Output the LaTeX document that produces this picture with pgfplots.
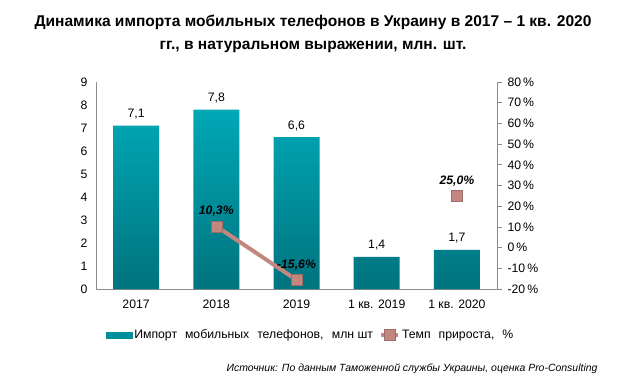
\documentclass[border=0pt]{standalone}
\usepackage{pgfplots}
\pgfplotsset{compat=1.18}
\usepackage{fontspec}
\setmainfont{Liberation Sans}
\definecolor{barTop}{HTML}{00A8B6}
\definecolor{barBot}{HTML}{00737E}
\definecolor{growth}{HTML}{C28880}
\definecolor{axisgray}{HTML}{8C8C8C}
\begin{document}
\begin{tikzpicture}[x=1bp,y=1bp]
\path[use as bounding box] (0,0) rectangle (639,386);
\node[font=\fontsize{15.6}{22.5}\selectfont\bfseries, align=center] at (313,352) {Динамика импорта мобильных телефонов в Украину в 2017 – 1 кв. 2020\\гг., в натуральном выражении, млн. шт.};
\begin{axis}[
  at={(96bp,97bp)}, anchor=south west,
  width=401bp, height=207bp, scale only axis,
  xmin=-0.5, xmax=4.5, ymin=0, ymax=9,
  xtick={0,1,2,3,4},
  xticklabels={2017,2018,2019,1 кв. 2019,1 кв. 2020},
  ytick={0,1,...,9},
  axis x line*=bottom, axis y line*=left,
  axis line style={axisgray, line width=0.8bp},
  major tick length=0pt,
  tick label style={font=\fontsize{12.3}{14}\selectfont},
  /pgf/number format/assume math mode=true,
  xticklabel style={yshift=-7bp},
  yticklabel style={xshift=-5bp},
]
\addplot[ybar, bar width=46bp, draw=none, top color=barTop, bottom color=barBot,
  nodes near coords, point meta=explicit symbolic,
  every node near coord/.append style={font=\fontsize{12.3}{14}\selectfont, black, yshift=3bp}]
  table[meta=lab] {
x y lab
0 7.1 7,1
1 7.8 7,8
2 6.6 6,6
3 1.4 1,4
4 1.7 1,7
};
\end{axis}
\begin{axis}[
  at={(96bp,97bp)}, anchor=south west,
  width=401bp, height=207bp, scale only axis,
  xmin=-0.5, xmax=4.5, ymin=-20, ymax=80,
  ytick={-20,-10,...,80},
  axis x line=none, axis y line*=right,
  axis line style={axisgray, line width=0.8bp},
  tick align=outside, major tick length=5bp,
  ytick style={axisgray, line width=0.8bp},
  yticklabel={\pgfmathprintnumber{\tick}\,\%},
  tick label style={font=\fontsize{12.3}{14}\selectfont},
  /pgf/number format/assume math mode=true,
  yticklabel style={xshift=2bp},
  legend style={at={(0.535,-0.222)}, anchor=center, draw=none, fill=none,
    legend columns=2, font=\fontsize{12.3}{14}\selectfont,
    /tikz/every even column/.append style={column sep=4bp}},
  legend cell align=left,
]
\addlegendimage{legend image code/.code={\fill[barTop!50!barBot] (-2bp,-3bp) rectangle (24bp,3bp);}}
\addlegendentry{Импорт\hspace{4.5bp} мобильных\hspace{4.5bp} телефонов,\hspace{5bp} млн шт}
\addplot[growth, line width=4bp, mark=square*, mark size=5.5bp,
  mark options={fill=growth, draw=growth!80!black, line width=0.5bp},
  nodes near coords, point meta=explicit symbolic,
  every node near coord/.append style={font=\fontsize{12.3}{14}\selectfont\bfseries\itshape, black, yshift=6bp}]
  table[meta=lab] {
x y lab
1 10.3 10,3\%
2 -15.6 -15,6\%
};
\addlegendentry{Темп\hspace{4.5bp} прироста,\hspace{4.5bp} \%}
\addplot[only marks, mark=square*, mark size=5.5bp,
  mark options={fill=growth, draw=growth!80!black, line width=0.5bp},
  nodes near coords, point meta=explicit symbolic,
  every node near coord/.append style={font=\fontsize{12.3}{14}\selectfont\bfseries\itshape, black, yshift=6bp},
  forget plot]
  table[meta=lab] {
x y lab
4 25.0 25,0\%
};
\end{axis}
\node[anchor=east, font=\fontsize{10.5}{12}\selectfont\itshape] at (601,17) {Источник: По данным Таможенной службы Украины, оценка Pro-Consulting};
\end{tikzpicture}
\end{document}
